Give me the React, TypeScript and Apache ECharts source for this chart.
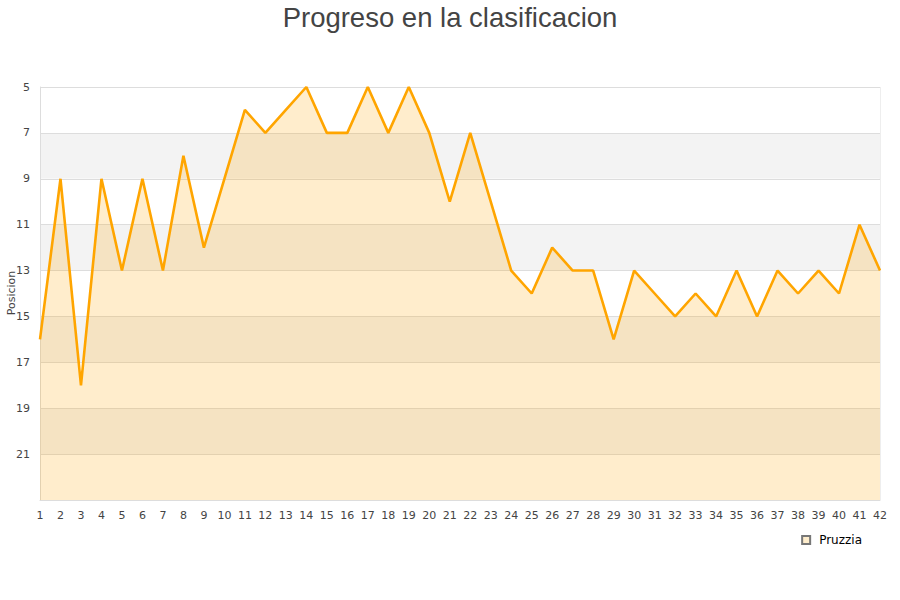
import React, { useEffect, useRef } from 'react';
import * as echarts from 'echarts';

const jornadas = Array.from({ length: 42 }, (_, i) => String(i + 1));
const posiciones = [
    16, 9, 18, 9, 13, 9, 13, 8, 12, 9,
    6, 7, 6, 5, 7, 7, 5, 7, 5, 7,
    10, 7, 10, 13, 14, 12, 13, 13, 16, 13,
    14, 15, 14, 15, 13, 15, 13, 14, 13, 14,
    11, 13,
];
const equipo = 'Pruzzia';

const App: React.FC = () => {
    const chartRef = useRef<HTMLDivElement>(null);

    useEffect(() => {
        document.body.style.margin = '0';
        if (!chartRef.current) return;
        const chart = echarts.init(chartRef.current, null, { renderer: 'svg' });

        chart.setOption({
            animation: false,
            title: {
                text: 'Progreso en la clasificacion',
                left: 'center',
                top: -2,
                textStyle: {
                    fontFamily: 'Liberation Sans',
                    fontSize: 27.5,
                    fontWeight: 'normal',
                    color: '#444',
                },
            },
            legend: {
                data: [equipo],
                right: 33,
                top: 529,
                icon: 'rect',
                itemWidth: 8,
                itemHeight: 8,
                itemGap: 5,
                textStyle: { fontFamily: 'DejaVu Sans', fontSize: 12, color: '#000', padding: [0, 0, 0, 4] },
            },
            grid: { left: 40, right: 20, top: 87, bottom: 100, outerBoundsMode: 'none', containLabel: false },
            xAxis: {
                type: 'category',
                data: jornadas,
                boundaryGap: false,
                axisLine: { lineStyle: { color: '#ddd' } },
                axisTick: { show: false },
                axisLabel: {
                    fontFamily: 'DejaVu Sans',
                    fontSize: 11,
                    color: '#444',
                    interval: 0,
                    margin: 10,
                },
            },
            yAxis: {
                type: 'value',
                inverse: true,
                min: 5,
                max: 23,
                interval: 2,
                axisLine: { show: true, lineStyle: { color: '#ddd' } },
                axisTick: { show: false },
                axisLabel: {
                    fontFamily: 'DejaVu Sans',
                    fontSize: 11,
                    color: '#444',
                    margin: 10,
                    showMaxLabel: false,
                },
                splitLine: { show: true, lineStyle: { color: '#ddd' } },
                splitArea: { show: true, areaStyle: { color: ['#ffffff', '#f3f3f3'] } },
            },
            series: [
                {
                    name: equipo,
                    type: 'line',
                    data: posiciones,
                    symbol: 'none',
                    lineStyle: { color: '#ffa500', width: 2.6 },
                    itemStyle: { color: '#feedcc', borderColor: '#777', borderWidth: 1 },
                    areaStyle: { color: 'rgba(255,165,0,0.2)', opacity: 1, origin: 'end' },
                },
            ],
            graphic: [
                {
                    type: 'line',
                    shape: { x1: 880, y1: 87, x2: 880, y2: 500 },
                    style: { stroke: '#ddd', lineWidth: 1 },
                },
                {
                    type: 'text',
                    x: 11,
                    y: 293,
                    rotation: Math.PI / 2,
                    style: {
                        text: 'Posicion',
                        fontFamily: 'DejaVu Sans',
                        fontSize: 11,
                        fill: '#444',
                        align: 'center',
                        verticalAlign: 'middle',
                    },
                },
            ],
        });

        return () => {
            chart.dispose();
        };
    }, []);

    return <div ref={chartRef} style={{ width: '900px', height: '600px' }} />;
};

export default App;
